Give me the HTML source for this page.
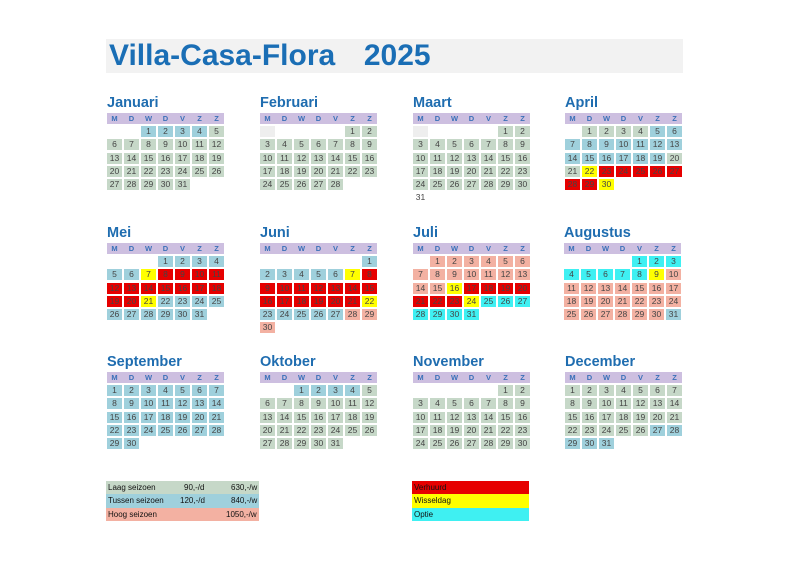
<!DOCTYPE html>
<html><head><meta charset="utf-8"><style>
body{margin:0;width:799px;height:565px;background:#fff;position:relative;overflow:hidden;font-family:"Liberation Sans",sans-serif}
.title{position:absolute;left:106px;top:39px;width:577px;height:34px;background:#f2f2f2}
.title span{position:absolute;left:3px;top:0px;font-size:30px;line-height:34px;font-weight:bold;color:#1a6eb5;word-spacing:6px}
.m{position:absolute;width:117px}
.m h2{margin:0;height:18px;line-height:17px;font-size:14.5px;font-weight:bold;color:#1f6db0}
.hd{height:11px;background:#cdbfe0;display:grid;grid-template-columns:repeat(7,15px);column-gap:2px;font-size:7.5px;font-weight:bold;color:#3a70b8;line-height:11px;text-align:center}
.g{margin-top:2px;display:grid;grid-template-columns:repeat(7,15px);column-gap:2px;grid-auto-rows:11px;row-gap:2.3px}
.g span{font-size:8.5px;line-height:11px;text-align:center;color:#444}
.l{background:#c6d8c8}.t{background:#9fd0dc}.h{background:#f3b1a2}.r{background:#e60000}.y{background:#ffff00}.c{background:#3ff0f2}.e{background:#eee}
.lg{position:absolute;font-size:8px;color:#111}
.lg div{height:13.3px;line-height:13px;position:relative;padding-left:2px}
.lg b{font-weight:normal;position:absolute;top:0}
</style></head><body>
<div class="title"><span>Villa-Casa-Flora&nbsp;&nbsp;2025</span></div>

<div class="m" style="left:107px;top:95px"><h2>Januari</h2><div class="hd"><span>M</span><span>D</span><span>W</span><span>D</span><span>V</span><span>Z</span><span>Z</span></div><div class="g">
<span></span><span></span><span class="t">1</span><span class="t">2</span><span class="t">3</span><span class="t">4</span><span class="l">5</span>
<span class="l">6</span><span class="l">7</span><span class="l">8</span><span class="l">9</span><span class="l">10</span><span class="l">11</span><span class="l">12</span>
<span class="l">13</span><span class="l">14</span><span class="l">15</span><span class="l">16</span><span class="l">17</span><span class="l">18</span><span class="l">19</span>
<span class="l">20</span><span class="l">21</span><span class="l">22</span><span class="l">23</span><span class="l">24</span><span class="l">25</span><span class="l">26</span>
<span class="l">27</span><span class="l">28</span><span class="l">29</span><span class="l">30</span><span class="l">31</span></div></div>

<div class="m" style="left:260px;top:95px"><h2>Februari</h2><div class="hd"><span>M</span><span>D</span><span>W</span><span>D</span><span>V</span><span>Z</span><span>Z</span></div><div class="g">
<span class="e"></span><span></span><span></span><span></span><span></span><span class="l">1</span><span class="l">2</span>
<span class="l">3</span><span class="l">4</span><span class="l">5</span><span class="l">6</span><span class="l">7</span><span class="l">8</span><span class="l">9</span>
<span class="l">10</span><span class="l">11</span><span class="l">12</span><span class="l">13</span><span class="l">14</span><span class="l">15</span><span class="l">16</span>
<span class="l">17</span><span class="l">18</span><span class="l">19</span><span class="l">20</span><span class="l">21</span><span class="l">22</span><span class="l">23</span>
<span class="l">24</span><span class="l">25</span><span class="l">26</span><span class="l">27</span><span class="l">28</span></div></div>

<div class="m" style="left:413px;top:95px"><h2>Maart</h2><div class="hd"><span>M</span><span>D</span><span>W</span><span>D</span><span>V</span><span>Z</span><span>Z</span></div><div class="g">
<span class="e"></span><span></span><span></span><span></span><span></span><span class="l">1</span><span class="l">2</span>
<span class="l">3</span><span class="l">4</span><span class="l">5</span><span class="l">6</span><span class="l">7</span><span class="l">8</span><span class="l">9</span>
<span class="l">10</span><span class="l">11</span><span class="l">12</span><span class="l">13</span><span class="l">14</span><span class="l">15</span><span class="l">16</span>
<span class="l">17</span><span class="l">18</span><span class="l">19</span><span class="l">20</span><span class="l">21</span><span class="l">22</span><span class="l">23</span>
<span class="l">24</span><span class="l">25</span><span class="l">26</span><span class="l">27</span><span class="l">28</span><span class="l">29</span><span class="l">30</span>
<span>31</span></div></div>

<div class="m" style="left:565px;top:95px"><h2>April</h2><div class="hd"><span>M</span><span>D</span><span>W</span><span>D</span><span>V</span><span>Z</span><span>Z</span></div><div class="g">
<span></span><span class="l">1</span><span class="l">2</span><span class="l">3</span><span class="l">4</span><span class="t">5</span><span class="t">6</span>
<span class="t">7</span><span class="t">8</span><span class="t">9</span><span class="t">10</span><span class="t">11</span><span class="t">12</span><span class="t">13</span>
<span class="t">14</span><span class="t">15</span><span class="t">16</span><span class="t">17</span><span class="t">18</span><span class="t">19</span><span class="l">20</span>
<span class="l">21</span><span class="y">22</span><span class="r">23</span><span class="r">24</span><span class="r">25</span><span class="r">26</span><span class="r">27</span>
<span class="r">28</span><span class="r">29</span><span class="y">30</span></div></div>

<div class="m" style="left:107px;top:225px"><h2>Mei</h2><div class="hd"><span>M</span><span>D</span><span>W</span><span>D</span><span>V</span><span>Z</span><span>Z</span></div><div class="g">
<span></span><span></span><span></span><span class="t">1</span><span class="t">2</span><span class="t">3</span><span class="t">4</span>
<span class="t">5</span><span class="t">6</span><span class="y">7</span><span class="r">8</span><span class="r">9</span><span class="r">10</span><span class="r">11</span>
<span class="r">12</span><span class="r">13</span><span class="r">14</span><span class="r">15</span><span class="r">16</span><span class="r">17</span><span class="r">18</span>
<span class="r">19</span><span class="r">20</span><span class="y">21</span><span class="t">22</span><span class="t">23</span><span class="t">24</span><span class="t">25</span>
<span class="t">26</span><span class="t">27</span><span class="t">28</span><span class="t">29</span><span class="t">30</span><span class="t">31</span></div></div>

<div class="m" style="left:260px;top:225px"><h2>Juni</h2><div class="hd"><span>M</span><span>D</span><span>W</span><span>D</span><span>V</span><span>Z</span><span>Z</span></div><div class="g">
<span></span><span></span><span></span><span></span><span></span><span></span><span class="t">1</span>
<span class="t">2</span><span class="t">3</span><span class="t">4</span><span class="t">5</span><span class="t">6</span><span class="y">7</span><span class="r">8</span>
<span class="r">9</span><span class="r">10</span><span class="r">11</span><span class="r">12</span><span class="r">13</span><span class="r">14</span><span class="r">15</span>
<span class="r">16</span><span class="r">17</span><span class="r">18</span><span class="r">19</span><span class="r">20</span><span class="r">21</span><span class="y">22</span>
<span class="t">23</span><span class="t">24</span><span class="t">25</span><span class="t">26</span><span class="t">27</span><span class="h">28</span><span class="h">29</span>
<span class="h">30</span></div></div>

<div class="m" style="left:413px;top:225px"><h2>Juli</h2><div class="hd"><span>M</span><span>D</span><span>W</span><span>D</span><span>V</span><span>Z</span><span>Z</span></div><div class="g">
<span></span><span class="h">1</span><span class="h">2</span><span class="h">3</span><span class="h">4</span><span class="h">5</span><span class="h">6</span>
<span class="h">7</span><span class="h">8</span><span class="h">9</span><span class="h">10</span><span class="h">11</span><span class="h">12</span><span class="h">13</span>
<span class="h">14</span><span class="h">15</span><span class="y">16</span><span class="r">17</span><span class="r">18</span><span class="r">19</span><span class="r">20</span>
<span class="r">21</span><span class="r">22</span><span class="r">23</span><span class="y">24</span><span class="c">25</span><span class="c">26</span><span class="c">27</span>
<span class="c">28</span><span class="c">29</span><span class="c">30</span><span class="c">31</span></div></div>

<div class="m" style="left:564px;top:225px"><h2>Augustus</h2><div class="hd"><span>M</span><span>D</span><span>W</span><span>D</span><span>V</span><span>Z</span><span>Z</span></div><div class="g">
<span></span><span></span><span></span><span></span><span class="c">1</span><span class="c">2</span><span class="c">3</span>
<span class="c">4</span><span class="c">5</span><span class="c">6</span><span class="c">7</span><span class="c">8</span><span class="y">9</span><span class="h">10</span>
<span class="h">11</span><span class="h">12</span><span class="h">13</span><span class="h">14</span><span class="h">15</span><span class="h">16</span><span class="h">17</span>
<span class="h">18</span><span class="h">19</span><span class="h">20</span><span class="h">21</span><span class="h">22</span><span class="h">23</span><span class="h">24</span>
<span class="h">25</span><span class="h">26</span><span class="h">27</span><span class="h">28</span><span class="h">29</span><span class="h">30</span><span class="t">31</span></div></div>

<div class="m" style="left:107px;top:354px"><h2>September</h2><div class="hd"><span>M</span><span>D</span><span>W</span><span>D</span><span>V</span><span>Z</span><span>Z</span></div><div class="g">
<span class="t">1</span><span class="t">2</span><span class="t">3</span><span class="t">4</span><span class="t">5</span><span class="t">6</span><span class="t">7</span>
<span class="t">8</span><span class="t">9</span><span class="t">10</span><span class="t">11</span><span class="t">12</span><span class="t">13</span><span class="t">14</span>
<span class="t">15</span><span class="t">16</span><span class="t">17</span><span class="t">18</span><span class="t">19</span><span class="t">20</span><span class="t">21</span>
<span class="t">22</span><span class="t">23</span><span class="t">24</span><span class="t">25</span><span class="t">26</span><span class="t">27</span><span class="t">28</span>
<span class="t">29</span><span class="t">30</span></div></div>

<div class="m" style="left:260px;top:354px"><h2>Oktober</h2><div class="hd"><span>M</span><span>D</span><span>W</span><span>D</span><span>V</span><span>Z</span><span>Z</span></div><div class="g">
<span></span><span></span><span class="t">1</span><span class="t">2</span><span class="t">3</span><span class="t">4</span><span class="l">5</span>
<span class="l">6</span><span class="l">7</span><span class="l">8</span><span class="l">9</span><span class="l">10</span><span class="l">11</span><span class="l">12</span>
<span class="l">13</span><span class="l">14</span><span class="l">15</span><span class="l">16</span><span class="l">17</span><span class="l">18</span><span class="l">19</span>
<span class="l">20</span><span class="l">21</span><span class="l">22</span><span class="l">23</span><span class="l">24</span><span class="l">25</span><span class="l">26</span>
<span class="l">27</span><span class="l">28</span><span class="l">29</span><span class="l">30</span><span class="l">31</span></div></div>

<div class="m" style="left:413px;top:354px"><h2>November</h2><div class="hd"><span>M</span><span>D</span><span>W</span><span>D</span><span>V</span><span>Z</span><span>Z</span></div><div class="g">
<span></span><span></span><span></span><span></span><span></span><span class="l">1</span><span class="l">2</span>
<span class="l">3</span><span class="l">4</span><span class="l">5</span><span class="l">6</span><span class="l">7</span><span class="l">8</span><span class="l">9</span>
<span class="l">10</span><span class="l">11</span><span class="l">12</span><span class="l">13</span><span class="l">14</span><span class="l">15</span><span class="l">16</span>
<span class="l">17</span><span class="l">18</span><span class="l">19</span><span class="l">20</span><span class="l">21</span><span class="l">22</span><span class="l">23</span>
<span class="l">24</span><span class="l">25</span><span class="l">26</span><span class="l">27</span><span class="l">28</span><span class="l">29</span><span class="l">30</span></div></div>

<div class="m" style="left:565px;top:354px"><h2>December</h2><div class="hd"><span>M</span><span>D</span><span>W</span><span>D</span><span>V</span><span>Z</span><span>Z</span></div><div class="g">
<span class="l">1</span><span class="l">2</span><span class="l">3</span><span class="l">4</span><span class="l">5</span><span class="l">6</span><span class="l">7</span>
<span class="l">8</span><span class="l">9</span><span class="l">10</span><span class="l">11</span><span class="l">12</span><span class="l">13</span><span class="l">14</span>
<span class="l">15</span><span class="l">16</span><span class="l">17</span><span class="l">18</span><span class="l">19</span><span class="l">20</span><span class="l">21</span>
<span class="l">22</span><span class="l">23</span><span class="l">24</span><span class="l">25</span><span class="l">26</span><span class="t">27</span><span class="t">28</span>
<span class="t">29</span><span class="t">30</span><span class="t">31</span></div></div>

<div class="lg" style="left:106px;top:481px;width:153px">
<div class="l">Laag seizoen<b style="left:78px">90,-/d</b><b style="left:125px">630,-/w</b></div>
<div class="t">Tussen seizoen<b style="left:74px">120,-/d</b><b style="left:125px">840,-/w</b></div>
<div class="h">Hoog seizoen<b style="left:120px">1050,-/w</b></div>
</div>
<div class="lg" style="left:412px;top:481px;width:117px">
<div class="r">Verhuurd</div>
<div class="y">Wisseldag</div>
<div class="c">Optie</div>
</div>
</body></html>
